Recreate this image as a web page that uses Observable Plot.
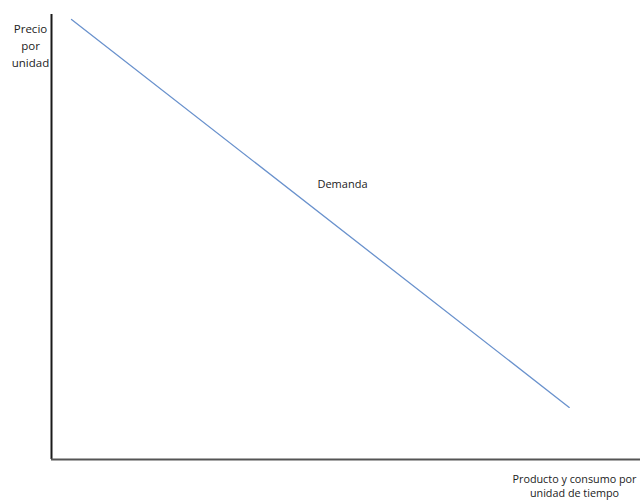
<!DOCTYPE html>
<html>
<head>
<meta charset="utf-8">
<script src="https://cdn.jsdelivr.net/npm/d3@7"></script>
<script src="https://cdn.jsdelivr.net/npm/@observablehq/plot@0.6"></script>
<style>
  html, body { margin: 0; padding: 0; background: #fff; }
  #chart svg { display: block; }
</style>
</head>
<body>
<div id="chart"></div>
<script>
// Data (domain units: 0–100 on both axes)
const quantity = [3.4, 87.9];
const price = [98.9, 11.7];
const curveName = "Demanda";
const curveLabelPos = { q: 49.4, p: 61.8 };
const yTitle = "Precio\npor\nunidad";
const xTitle = "Producto y consumo por\nunidad de tiempo";

const demanda = quantity.map((q, i) => ({ q, p: price[i] }));

const chart = Plot.plot({
  width: 640,
  height: 500,
  marginLeft: 51,
  marginRight: 0,
  marginTop: 14,
  marginBottom: 41,
  style: { fontFamily: "'Open Sans', sans-serif", background: "#fff", overflow: "visible" },
  x: { domain: [0, 100], axis: null },
  y: { domain: [0, 100], axis: null },
  marks: [
    Plot.ruleX([0], { y1: 0, y2: 100, stroke: "#1a1a1a", strokeWidth: 2 }),
    Plot.ruleY([0], { x1: 0, x2: 100, stroke: "#555", strokeWidth: 2 }),
    Plot.line(demanda, { x: "q", y: "p", stroke: "#6a92cd", strokeWidth: 1.3 }),
    Plot.text([curveLabelPos], { x: "q", y: "p", text: () => curveName, fontSize: 11, fill: "#222" }),
    Plot.text([yTitle], { frameAnchor: "top-left", dx: -21, dy: 6, lineAnchor: "top", lineHeight: 1.5, fontSize: 11.5, fill: "#222", textAnchor: "middle" }),
    Plot.text([xTitle], { frameAnchor: "bottom-right", dx: -66, dy: 14, lineAnchor: "top", lineHeight: 1.27, fontSize: 10.8, fill: "#222", textAnchor: "middle" })
  ]
});
document.getElementById("chart").appendChild(chart);
</script>
</body>
</html>
